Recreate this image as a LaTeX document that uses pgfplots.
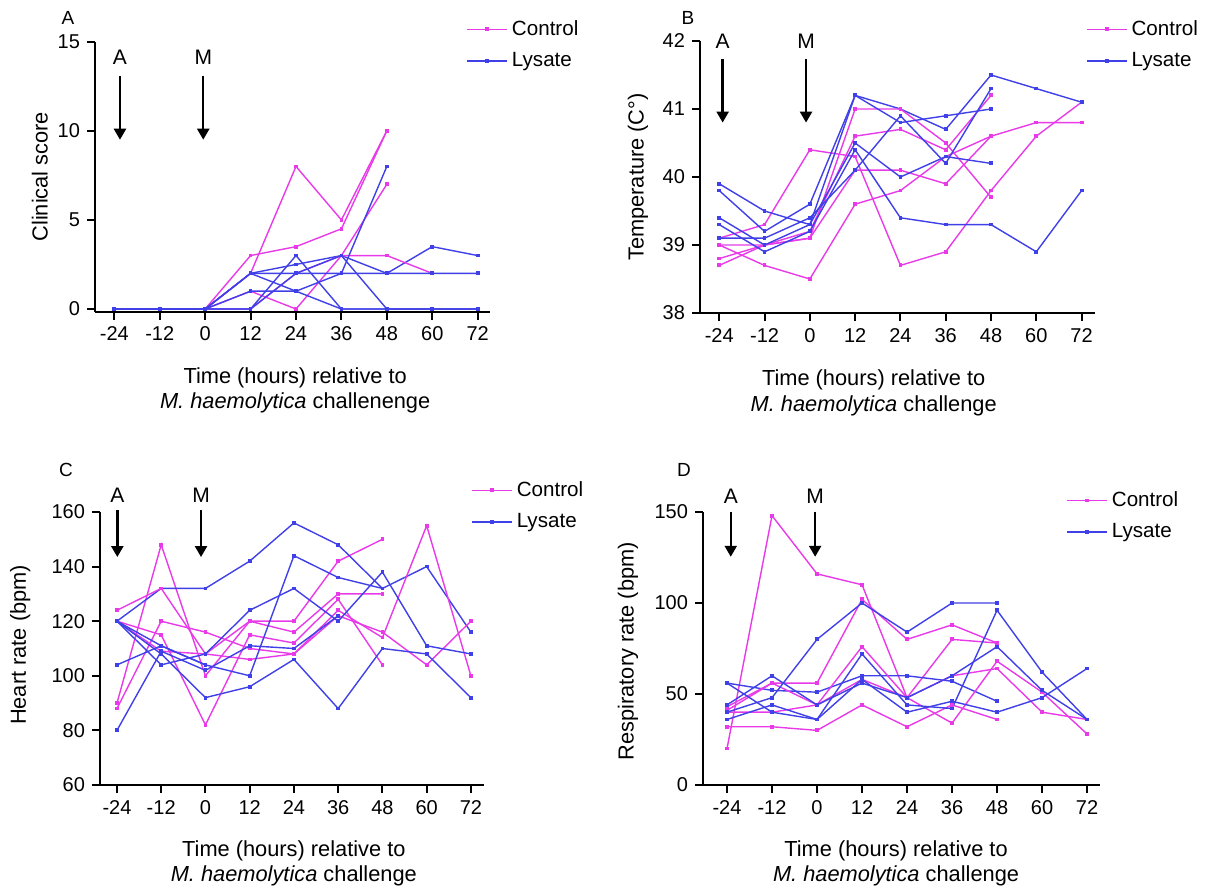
\documentclass[border=0pt]{standalone}
\usepackage{fontspec}
\setmainfont{Liberation Sans}
\usepackage{pgfplots}
\pgfplotsset{compat=1.18}
\usetikzlibrary{arrows.meta}

\definecolor{ctrl}{RGB}{232,58,232}
\definecolor{lys}{RGB}{64,64,232}

\tikzset{
  arr/.style={line width=1.2pt, black, -{Triangle[width=6pt,length=5.5pt]}},
  lab/.style={font=\fontsize{10.5}{12}\selectfont},
}

\pgfplotsset{
  panel/.style={
    scale only axis,
    axis lines*=left,
    axis line style={line width=1pt},
    tick align=outside,
    major tick length=4pt,
    tick style={line width=1pt, black},
    xtick={-24,-12,0,12,24,36,48,60,72},
    xticklabels={-24,-12,0,12,24,36,48,60,72},
    ticklabel style={font=\fontsize{10}{12}\selectfont},
    /pgf/number format/assume math mode=true,
    label style={font=\fontsize{10.9}{12.6}\selectfont},
    xlabel style={align=center, anchor=north},
    ylabel style={anchor=center},
    xlabel={Time (hours) relative to\\\textit{M. haemolytica} challenge},
    clip=false,
    legend cell align=left,
    legend style={draw=none, fill=none, font=\fontsize{10.3}{13}\selectfont,
      anchor=north west, row sep=3pt},
    legend image code/.code={\draw[mark repeat=2,mark phase=2,##1]
      plot coordinates {(0pt,0pt) (10pt,0pt) (20pt,0pt)};},
  },
  ctrl/.style={color=ctrl, line width=0.7pt, mark=square*, mark size=0.6pt},
  lys/.style={color=lys, line width=0.7pt, mark=square*, mark size=0.6pt},
}

\begin{document}
\begin{tikzpicture}
\useasboundingbox (0,0) rectangle (605.5pt,444pt);

% ---------------- A: clinical score
\begin{axis}[panel, at={(47.5pt,288.15pt)}, anchor=south west,
  width=197.4pt, height=135pt,
  xmin=-29.1, xmax=75.2, ymin=-0.15, ymax=15, ytick={0,5,10,15},
  ylabel={Clinical score},
  ylabel style={at={(axis description cs:-0.14,0.5)}},
  xlabel={Time (hours) relative to\\\textit{M. haemolytica} challenenge},
  xlabel style={at={(axis description cs:0.507,-0.18)}},
  legend style={at={(axis description cs:0.925,1.11)}}]
\addplot[ctrl] coordinates {(-24,0)(-12,0)(0,0)(12,3)(24,3.5)(36,4.5)(48,10)};
\addlegendentry{Control}
\addplot[lys] coordinates {(-24,0)(-12,0)(0,0)(12,2)(24,2.5)(36,3)(48,2)(60,3.5)(72,3)};
\addlegendentry{Lysate}
\addplot[ctrl, forget plot] coordinates {(-24,0)(-12,0)(0,0)(12,2)(24,8)(36,5)(48,10)};
\addplot[ctrl, forget plot] coordinates {(-24,0)(-12,0)(0,0)(12,1)(24,0)(36,3)(48,7)};
\addplot[ctrl, forget plot] coordinates {(-24,0)(-12,0)(0,0)(12,0)(24,2)(36,3)(48,3)(60,2)};
\addplot[lys, forget plot] coordinates {(-24,0)(-12,0)(0,0)(12,2)(24,2)(36,2)(48,2)(60,2)(72,2)};
\addplot[lys, forget plot] coordinates {(-24,0)(-12,0)(0,0)(12,2)(24,1)(36,0)(48,0)(60,0)(72,0)};
\addplot[lys, forget plot] coordinates {(-24,0)(-12,0)(0,0)(12,1)(24,1)(36,2)(48,8)};
\addplot[lys, forget plot] coordinates {(-24,0)(-12,0)(0,0)(12,0)(24,3)(36,0)(48,0)(60,0)(72,0)};
\addplot[lys, forget plot] coordinates {(-24,0)(-12,0)(0,0)(12,0)(24,2)(36,3)(48,0)(60,0)(72,0)};
\draw[arr] (axis cs:-22.5,13.1) -- (axis cs:-22.5,9.5);
\draw[arr] (axis cs:-0.5,13.1) -- (axis cs:-0.5,9.5);
\node[lab] at (axis cs:-22.5,14.14) {A};
\node[lab] at (axis cs:-0.5,14.14) {M};
\end{axis}

% ---------------- B: temperature
\begin{axis}[panel, at={(350pt,287.5pt)}, anchor=south west,
  width=197.4pt, height=136pt,
  xmin=-29.1, xmax=75.5, ymin=38, ymax=42, ytick={38,39,40,41,42},
  ylabel={Temperature (C°)},
  ylabel style={at={(axis description cs:-0.157,0.5)}},
  xlabel style={at={(axis description cs:0.44,-0.184)}},
  legend style={at={(axis description cs:0.962,1.107)}}]
\addplot[ctrl] coordinates {(-24,39.1)(-12,39.3)(0,40.4)(12,40.3)(24,38.7)(36,38.9)(48,39.8)(60,40.6)(72,41.1)};
\addlegendentry{Control}
\addplot[lys] coordinates {(-24,39.9)(-12,39.5)(0,39.3)(12,41.2)(24,41.0)(36,40.7)(48,41.5)(60,41.3)(72,41.1)};
\addlegendentry{Lysate}
\addplot[ctrl, forget plot] coordinates {(-24,39.0)(-12,39.0)(0,39.1)(12,41.0)(24,41.0)(36,40.5)(48,39.7)};
\addplot[ctrl, forget plot] coordinates {(-24,38.8)(-12,39.0)(0,39.2)(12,40.6)(24,40.7)(36,40.4)(48,41.2)};
\addplot[ctrl, forget plot] coordinates {(-24,38.7)(-12,39.0)(0,39.1)(12,40.1)(24,40.1)(36,39.9)(48,40.6)(60,40.8)(72,40.8)};
\addplot[ctrl, forget plot] coordinates {(-24,39.0)(-12,38.7)(0,38.5)(12,39.6)(24,39.8)(36,40.3)(48,40.6)};
\addplot[lys, forget plot] coordinates {(-24,39.8)(-12,39.2)(0,39.6)(12,41.2)(24,40.8)(36,40.9)(48,41.0)};
\addplot[lys, forget plot] coordinates {(-24,39.4)(-12,39.0)(0,39.3)(12,40.5)(24,40.0)(36,40.3)(48,40.2)};
\addplot[lys, forget plot] coordinates {(-24,39.3)(-12,38.9)(0,39.2)(12,40.4)(24,39.4)(36,39.3)(48,39.3)(60,38.9)(72,39.8)};
\addplot[lys, forget plot] coordinates {(-24,39.1)(-12,39.1)(0,39.4)(12,40.1)(24,40.9)(36,40.2)(48,41.3)};
\draw[arr] (axis cs:-23.1,41.73) -- (axis cs:-23.1,40.8);
\draw[arr] (axis cs:-1,41.73) -- (axis cs:-1,40.8);
\node[lab] at (axis cs:-23.1,41.99) {A};
\node[lab] at (axis cs:-1,41.99) {M};
\end{axis}

% ---------------- C: heart rate
\begin{axis}[panel, at={(50pt,51.5pt)}, anchor=south west,
  width=191.9pt, height=136.5pt,
  xmin=-28.6, xmax=75.5, ymin=60, ymax=160, ytick={60,80,100,120,140,160},
  ylabel={Heart rate (bpm)},
  ylabel style={at={(axis description cs:-0.208,0.513)}},
  xlabel style={at={(axis description cs:0.505,-0.179)}},
  legend style={at={(axis description cs:0.951,1.143)}}]
\addplot[ctrl] coordinates {(-24,90)(-12,148)(0,100)(12,120)(24,120)(36,142)(48,150)};
\addlegendentry{Control}
\addplot[lys] coordinates {(-24,120)(-12,132)(0,132)(12,142)(24,156)(36,148)(48,132)(60,140)(72,116)};
\addlegendentry{Lysate}
\addplot[ctrl, forget plot] coordinates {(-24,124)(-12,132)(0,108)(12,120)(24,116)(36,130)(48,130)};
\addplot[ctrl, forget plot] coordinates {(-24,120)(-12,115)(0,82)(12,115)(24,112)(36,128)(48,104)};
\addplot[ctrl, forget plot] coordinates {(-24,88)(-12,120)(0,116)(12,110)(24,108)(36,124)(48,114)(60,155)(72,100)};
\addplot[ctrl, forget plot] coordinates {(-24,120)(-12,109)(0,108)(12,106)(24,108)(36,122)(48,116)(60,104)(72,120)};
\addplot[lys, forget plot] coordinates {(-24,120)(-12,111)(0,104)(12,100)(24,144)(36,136)(48,132)};
\addplot[lys, forget plot] coordinates {(-24,120)(-12,104)(0,108)(12,124)(24,132)(36,120)(48,138)(60,111)(72,108)};
\addplot[lys, forget plot] coordinates {(-24,80)(-12,109)(0,102)(12,111)(24,110)(36,122)};
\addplot[lys, forget plot] coordinates {(-24,120)(-12,108)(0,92)(12,96)(24,106)(36,88)(48,110)(60,108)(72,92)};
\addplot[lys, forget plot] coordinates {(-24,104)(-12,111)(0,104)};
\draw[arr] (axis cs:-23.9,160.7) -- (axis cs:-23.9,143.5);
\draw[arr] (axis cs:-1.2,160.7) -- (axis cs:-1.2,143.5);
\node[lab] at (axis cs:-23.9,166.2) {A};
\node[lab] at (axis cs:-1.2,166.2) {M};
\end{axis}

% ---------------- D: respiratory rate
\begin{axis}[panel, at={(351.5pt,51.5pt)}, anchor=south west,
  width=198.6pt, height=136.5pt,
  xmin=-30.4, xmax=75.5, ymin=0, ymax=150, ytick={0,50,100,150},
  ylabel={Respiratory rate (bpm)},
  ylabel style={at={(axis description cs:-0.189,0.49)}},
  xlabel style={at={(axis description cs:0.486,-0.179)}},
  legend style={at={(axis description cs:0.899,1.106)}}]
\addplot[ctrl] coordinates {(-24,20)(-12,148)(0,116)(12,110)(24,48)(36,80)(48,78)};
\addlegendentry{Control}
\addplot[lys] coordinates {(-24,56)(-12,52)(0,51)(12,60)(24,60)(36,57)(48,46)};
\addlegendentry{Lysate}
\addplot[ctrl, forget plot] coordinates {(-24,43)(-12,56)(0,56)(12,102)(24,80)(36,88)(48,78)};
\addplot[ctrl, forget plot] coordinates {(-24,32)(-12,32)(0,30)(12,44)(24,32)(36,44)(48,36)};
\addplot[ctrl, forget plot] coordinates {(-24,40)(-12,40)(0,44)(12,76)(24,48)(36,34)(48,68)(60,51)(72,28)};
\addplot[ctrl, forget plot] coordinates {(-24,41)(-12,56)(0,44)(12,58)(24,48)(36,60)(48,64)(60,40)(72,36)};
\addplot[lys, forget plot] coordinates {(-24,44)(-12,60)(0,44)(12,56)(24,48)(36,60)(48,76)(60,52)(72,36)};
\addplot[lys, forget plot] coordinates {(-24,40)(-12,48)(0,80)(12,100)(24,84)(36,100)(48,100)};
\addplot[lys, forget plot] coordinates {(-24,36)(-12,44)(0,36)(12,72)(24,44)(36,42)(48,96)(60,62)(72,36)};
\addplot[lys, forget plot] coordinates {(-24,56)(-12,40)(0,36)(12,58)(24,40)(36,46)(48,40)(60,48)(72,64)};
\draw[arr] (axis cs:-23,150.2) -- (axis cs:-23,125.4);
\draw[arr] (axis cs:-0.5,150.2) -- (axis cs:-0.5,125.4);
\node[lab] at (axis cs:-23,158.8) {A};
\node[lab] at (axis cs:-0.5,158.8) {M};
\end{axis}

% panel letters
\node[font=\fontsize{9.5}{11}\selectfont] at (34pt,435pt) {A};
\node[font=\fontsize{9.5}{11}\selectfont] at (344pt,435pt) {B};
\node[font=\fontsize{9.5}{11}\selectfont] at (33pt,209pt) {C};
\node[font=\fontsize{9.5}{11}\selectfont] at (342pt,209pt) {D};
\end{tikzpicture}
\end{document}
